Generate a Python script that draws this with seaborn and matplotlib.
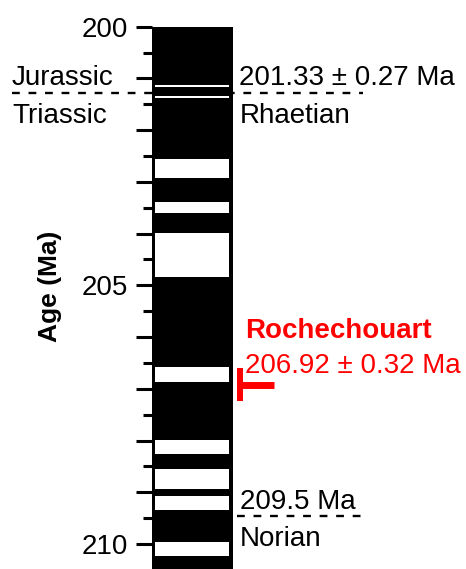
import numpy as np
import matplotlib
matplotlib.use("Agg")
import matplotlib.pyplot as plt
import seaborn as sns

# ---- data ----
column_top = 200.0
column_base = 210.6
band_tops = [201.13, 201.34, 202.56, 203.38, 203.99, 206.58, 207.99, 208.55, 209.07, 209.96]
band_bases = [201.165, 201.375, 202.92, 203.61, 204.84, 206.87, 208.26, 208.93, 209.34, 210.23]
major_ticks = [200, 201, 202, 203, 204, 205, 206, 207, 208, 209, 210]
major_labels = ["200", "", "", "", "", "205", "", "", "", "", "210"]
minor_ticks = [200.5, 201.5, 202.5, 203.5, 204.5, 205.5, 206.5, 207.5, 208.5, 209.5]
jt_boundary = 201.29
rn_boundary = 209.45
impact_age = 206.92
impact_err = 0.32

sns.set_style("ticks")
plt.rcParams["font.family"] = ["Liberation Sans", "DejaVu Sans"]
plt.rcParams["text.color"] = "black"
plt.rcParams["axes.labelcolor"] = "black"
plt.rcParams["ytick.color"] = "black"
plt.rcParams["xtick.color"] = "black"

W, H = 466, 569
fig = plt.figure(figsize=(W / 100, H / 100), dpi=100)
top_px = 26.7
px_per_ma = 51.73
ax = fig.add_axes([152 / W, 0, 81 / W, (H - top_px) / H])
ylim_bottom = 200 + (H - top_px) / px_per_ma
ax.set_ylim(ylim_bottom, 200)
ax.set_xlim(0, 1)

def xd(px):
    return (px - 152) / 81.0

# dashed boundary lines (beneath the column)
ax.plot([xd(12), xd(363)], [jt_boundary, jt_boundary], color="black", lw=1.7,
        dashes=(3.3, 3.7), clip_on=False, zorder=1)
ax.plot([xd(237), xd(363)], [rn_boundary, rn_boundary], color="black", lw=1.7,
        dashes=(3.3, 3.7), clip_on=False, zorder=1)

# polarity column
ax.bar(0.5, column_base - column_top, bottom=column_top, width=1.0,
       color="black", edgecolor="none", zorder=2)
tops = np.array(band_tops)
bases = np.array(band_bases)
ax.bar(np.full(len(tops), (0.037 + 0.955) / 2), bases - tops, bottom=tops,
       width=0.955 - 0.037, color="white", edgecolor="none", zorder=3)

# ticks
ax.set_yticks(major_ticks)
ax.set_yticklabels(major_labels)
ax.set_yticks(minor_ticks, minor=True)
ax.tick_params(axis="y", which="major", length=11.5, width=2.2, labelsize=20,
               pad=6, color="black", labelcolor="black", direction="out")
ax.tick_params(axis="y", which="minor", length=6.3, width=2.2, color="black",
               direction="out")
ax.set_xticks([])
for s in ax.spines.values():
    s.set_visible(False)

ax.set_ylabel("Age (Ma)", fontsize=19, fontweight="bold", color="black")
ax.yaxis.set_label_coords(xd(62), (H - 286) / (H - top_px))

# texts
fs = 20
ax.text(xd(12), 201.127, "Jurassic", fontsize=fs, ha="left", va="baseline", clip_on=False)
ax.text(xd(12), 201.867, "Triassic", fontsize=fs, ha="left", va="baseline", clip_on=False)
ax.text(xd(239), 201.127, "201.33 ± 0.27 Ma", fontsize=fs, ha="left", va="baseline", clip_on=False)
ax.text(xd(240), 201.867, "Rhaetian", fontsize=fs, ha="left", va="baseline", clip_on=False)
ax.text(xd(245), 206.024, "Rochechouart", fontsize=fs, fontweight="bold", color="#ff0000",
        ha="left", va="baseline", clip_on=False)
ax.text(xd(245), 206.689, "206.92 ± 0.32 Ma", fontsize=fs, color="#ff0000",
        ha="left", va="baseline", clip_on=False)
ax.text(xd(240), 209.329, "209.5 Ma", fontsize=fs, ha="left", va="baseline", clip_on=False)
ax.text(xd(240), 210.039, "Norian", fontsize=fs, ha="left", va="baseline", clip_on=False)

# impact age marker
ax.vlines(xd(240.3), impact_age - impact_err, impact_age + impact_err, color="#ff0000",
          lw=4.3, clip_on=False, zorder=4)
ax.hlines(impact_age, xd(240.3), xd(274.3), color="#ff0000", lw=5.0,
          clip_on=False, zorder=4)

fig.savefig("out.png", dpi=100)
